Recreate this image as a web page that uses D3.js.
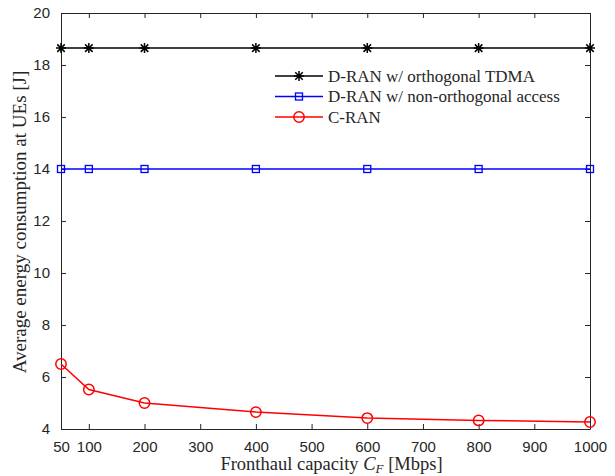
<!DOCTYPE html>
<html>
<head>
<meta charset="utf-8">
<script src="https://cdn.jsdelivr.net/npm/d3@7"></script>
<style>
  body { margin: 0; background: #fff; }
  .tick text { font-family: "Liberation Sans", Arial, sans-serif; font-size: 15px; fill: #262626; }
  .lbl { font-family: "Liberation Serif", "DejaVu Serif", serif; fill: #262626; }
</style>
</head>
<body>
<div id="chart-area"></div>
<script>
const MARGIN = { LEFT: 61, RIGHT: 25, TOP: 13, BOTTOM: 47 }
const WIDTH = 615 - MARGIN.LEFT - MARGIN.RIGHT
const HEIGHT = 476 - MARGIN.TOP - MARGIN.BOTTOM

// data
const capacity = [50, 100, 200, 400, 600, 800, 1000]
const tdma = [18.65, 18.65, 18.65, 18.65, 18.65, 18.65, 18.65]
const noma = [14, 14, 14, 14, 14, 14, 14]
const cran = [6.5, 5.52, 5.0, 4.65, 4.42, 4.33, 4.27]
const xTicks = [50, 100, 200, 300, 400, 500, 600, 700, 800, 900, 1000]
const yTicks = [4, 6, 8, 10, 12, 14, 16, 18, 20]
const seriesNames = ["D-RAN w/ orthogonal TDMA", "D-RAN w/ non-orthogonal access", "C-RAN"]

const series = [
  { name: seriesNames[0], values: tdma, color: "#000000", marker: "star" },
  { name: seriesNames[1], values: noma, color: "#0000ff", marker: "square" },
  { name: seriesNames[2], values: cran, color: "#ff0000", marker: "circle" }
]

const svg = d3.select("#chart-area").append("svg")
  .attr("width", 615)
  .attr("height", 476)

const g = svg.append("g")
  .attr("transform", `translate(${MARGIN.LEFT}, ${MARGIN.TOP})`)

const x = d3.scaleLinear().domain([50, 1000]).range([0, WIDTH])
const y = d3.scaleLinear().domain([4, 20]).range([HEIGHT, 0])

const axisColor = "#262626"

// axes with inward ticks, box on all sides
g.append("g").attr("transform", `translate(0, ${HEIGHT})`)
  .call(d3.axisBottom(x).tickValues(xTicks).tickFormat(d3.format("d"))
    .tickSizeInner(-5).tickSizeOuter(0).tickPadding(12))
g.append("g")
  .call(d3.axisTop(x).tickValues(xTicks).tickSizeInner(-5).tickSizeOuter(0).tickFormat(""))
g.append("g")
  .call(d3.axisLeft(y).tickValues(yTicks).tickSizeInner(-5).tickSizeOuter(0).tickPadding(11))
g.append("g").attr("transform", `translate(${WIDTH}, 0)`)
  .call(d3.axisRight(y).tickValues(yTicks).tickSizeInner(-5).tickSizeOuter(0).tickFormat(""))

g.selectAll(".domain, .tick line").attr("stroke", axisColor).attr("stroke-width", 1)

// x label
const xl = g.append("text")
  .attr("class", "lbl")
  .attr("x", WIDTH / 2 + 6)
  .attr("y", HEIGHT + 41)
  .attr("font-size", "18.5px")
  .attr("text-anchor", "middle")
xl.append("tspan").text("Fronthaul capacity ")
xl.append("tspan").attr("font-style", "italic").text("C")
xl.append("tspan").attr("font-style", "italic").attr("font-size", "13px").attr("dy", 3).text("F")
xl.append("tspan").attr("dy", -3).text(" [Mbps]")

// y label
g.append("text")
  .attr("class", "lbl")
  .attr("x", -HEIGHT / 2 - 1)
  .attr("y", -35)
  .attr("font-size", "19px")
  .attr("text-anchor", "middle")
  .attr("transform", "rotate(-90)")
  .text("Average energy consumption at UEs [J]")

const line = d3.line().x((d, i) => x(capacity[i])).y(d => y(d))

function drawMarker(sel, type, color) {
  if (type === "star") {
    const s = 5
    sel.append("path")
      .attr("d", `M${-s},0H${s}M0,${-s}V${s}M${-s * 0.75},${-s * 0.75}L${s * 0.75},${s * 0.75}M${-s * 0.75},${s * 0.75}L${s * 0.75},${-s * 0.75}`)
      .attr("stroke", color).attr("stroke-width", 1.5).attr("fill", "none")
  } else if (type === "square") {
    sel.append("rect").attr("x", -3.5).attr("y", -3.5).attr("width", 7).attr("height", 7)
      .attr("stroke", color).attr("stroke-width", 1.3).attr("fill", "none")
  } else {
    sel.append("circle").attr("r", 5.2)
      .attr("stroke", color).attr("stroke-width", 1.5).attr("fill", "none")
  }
}

series.forEach(s => {
  g.append("path")
    .datum(s.values)
    .attr("d", line)
    .attr("stroke", s.color)
    .attr("stroke-width", 1.5)
    .attr("fill", "none")
  s.values.forEach((v, i) => {
    const m = g.append("g").attr("transform", `translate(${x(capacity[i])}, ${y(v)})`)
    drawMarker(m, s.marker, s.color)
  })
})

// legend
const legend = g.append("g").attr("transform", `translate(${275 - MARGIN.LEFT}, ${76 - MARGIN.TOP})`)
series.forEach((s, i) => {
  const row = legend.append("g").attr("transform", `translate(0, ${i * 20.5})`)
  row.append("line").attr("x1", 0).attr("x2", 48).attr("y1", 0).attr("y2", 0)
    .attr("stroke", s.color).attr("stroke-width", 1.5)
  const m = row.append("g").attr("transform", "translate(24, 0)")
  drawMarker(m, s.marker, s.color)
  row.append("text")
    .attr("class", "lbl")
    .attr("x", 53)
    .attr("y", 5.5)
    .attr("font-size", "17px")
    .text(s.name)
})
</script>
</body>
</html>
